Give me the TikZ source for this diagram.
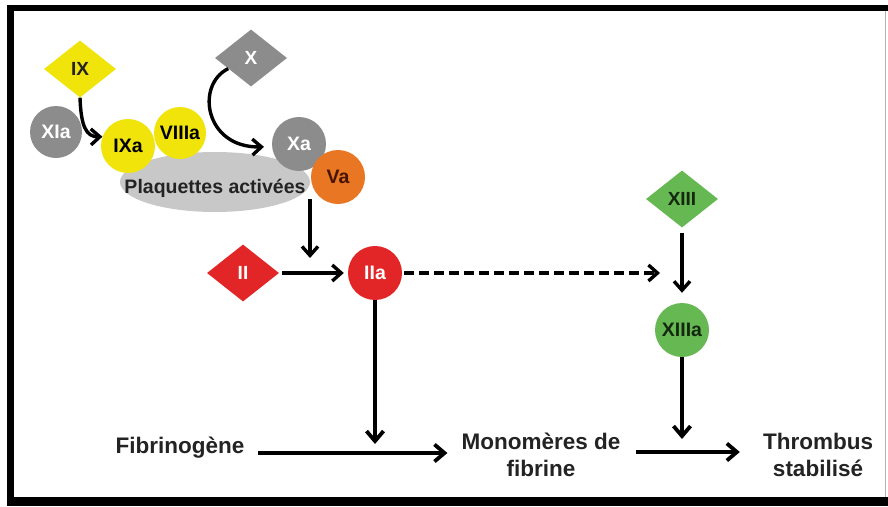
\documentclass[tikz,border=0pt]{standalone}
\usepackage{fontspec}
\setmainfont{Liberation Sans}
\usetikzlibrary{shapes.geometric,arrows.meta}
\definecolor{cyell}{RGB}{240,228,10}
\definecolor{cgray}{RGB}{140,140,140}
\definecolor{cplat}{RGB}{200,200,200}
\definecolor{corange}{RGB}{232,118,34}
\definecolor{cred}{RGB}{226,38,40}
\definecolor{cgreen}{RGB}{102,185,82}
\definecolor{ctext}{RGB}{35,35,35}
\begin{document}
\begin{tikzpicture}[x=1pt,y=-1pt,
  circ/.style={circle,minimum size=54pt,inner sep=0pt,font=\bfseries\fontsize{19.5}{20}\selectfont},
  diam/.style={diamond,minimum width=72pt,minimum height=57pt,inner sep=0pt,font=\bfseries\fontsize{19}{20}\selectfont},
  arr/.style={line width=3.4pt,-{Straight Barb[length=9pt,width=16pt]}},
  bigarr/.style={line width=3.8pt,-{Straight Barb[length=10pt,width=17pt]}},
  lbl/.style={font=\bfseries\fontsize{22.5}{27}\selectfont,align=center,text=ctext,inner sep=0pt}
]
% background and frame
\fill[white] (0,0) rectangle (888,506);
\fill[black] (7,5) rectangle (888,506);
\fill[white] (14,11) rectangle (888,497);
\draw[gray!60,line width=1pt] (885,11) -- (885,497);

% platelets
\node[ellipse,fill=cplat,minimum width=190pt,minimum height=60pt,inner sep=0pt,
      font=\bfseries\fontsize{19.5}{20}\selectfont,text=ctext] (plaq) at (215,182)
      {\raisebox{-11pt}[0pt][0pt]{\makebox[0pt]{Plaquettes activées}}};

% nodes
\node[diam,fill=cyell,text=ctext] (IX) at (80,69) {IX};
\node[diam,fill=cgray,text=white] (X) at (251,58) {X};
\node[circ,fill=cgray,text=white,minimum size=52pt] (XIa) at (56,132) {XIa};
\node[circ,fill=cyell,text=black,minimum size=52pt] (VIIIa) at (180,133) {VIIIa};
\node[circ,fill=cyell,text=black] (IXa) at (128,146) {IXa};
\node[circ,fill=cgray,text=white] (Xa) at (299,144) {Xa};
\node[circ,fill=corange,text={rgb,255:red,70;green,20;blue,0}] (Va) at (338,177) {Va};
\node[diam,fill=cred,text=white] (II) at (243,273) {II};
\node[circ,fill=cred,text=white] (IIa) at (375,273) {IIa};
\node[diam,fill=cgreen,text={rgb,255:red,20;green,40;blue,15}] (XIII) at (682,199) {XIII};
\node[circ,fill=cgreen,text={rgb,255:red,20;green,40;blue,15}] (XIIIa) at (682,330) {XIIIa};

% bottom labels
\node[lbl] (fib) at (180,448) {Fibrinogène};
\node[lbl] (mono) at (541,455) {Monomères de\\fibrine};
\node[lbl] (thr) at (818,455) {Thrombus\\stabilisé};

% coordinates for free ends
\coordinate (va1) at (310,199);
\coordinate (va2) at (310,258);
\coordinate (d1) at (660,273);
\coordinate (j1) at (375,444);
\coordinate (j2) at (682,439);

% arrows
\draw[arr] (IX.south) .. controls (81,126) and (86,137) .. (IXa.160);
\draw[arr] (X.205) .. controls (195,85) and (205,148) .. ([xshift=-8pt]Xa.186);
\draw[arr] (va1) -- (va2);
\draw[arr,shorten <=3pt,shorten >=4pt] (II.east) -- (IIa.west);
\draw[arr,dash pattern=on 10pt off 5pt] ([xshift=2pt]IIa.east) -- (d1);
\draw[arr,shorten <=5pt,shorten >=10pt] (XIII.south) -- (XIIIa.north);
\draw[bigarr] (IIa.south) -- (j1);
\draw[bigarr] (XIIIa.south) -- (j2);
\draw[bigarr] ([shift={(13,5)}]fib.east) -- ([shift={(-14,-2)}]mono.west);
\draw[bigarr] ([shift={(15,-3)}]mono.east) -- ([shift={(-23,-3)}]thr.west);
\end{tikzpicture}
\end{document}
